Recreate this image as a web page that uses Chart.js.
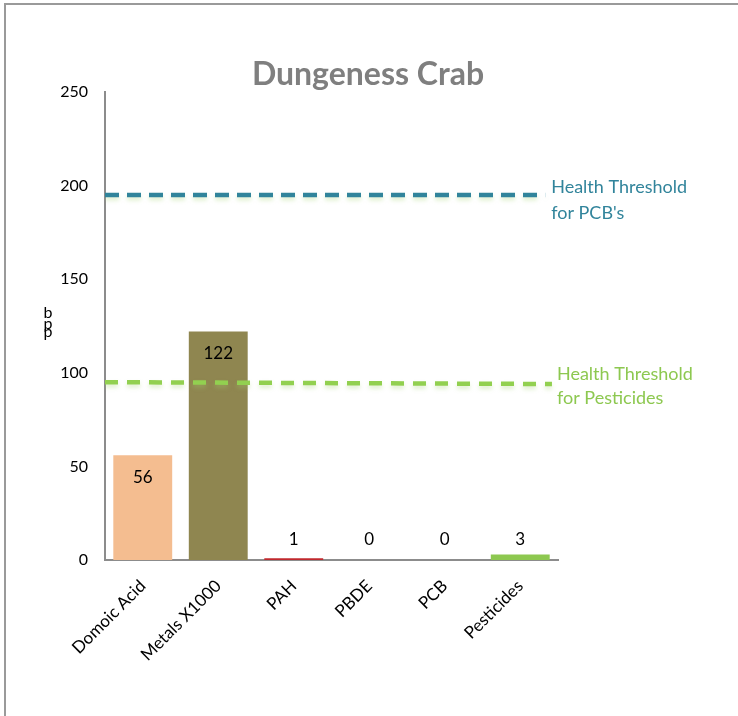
<!DOCTYPE html>
<html>
<head>
<meta charset="utf-8">
<script src="https://cdn.jsdelivr.net/npm/chart.js@4"></script>
<style>
  body { margin: 0; background: #fff; }
  #wrap { position: relative; width: 738px; height: 716px; overflow: hidden; }
  #frame { position: absolute; left: 4px; top: 3px; width: 900px; height: 900px;
           border-top: 2px solid #9a9a9a; border-left: 2px solid #9a9a9a; }
  canvas { position: absolute; left: 0; top: 0; }
</style>
</head>
<body>
<div id="wrap">
  <div id="frame"></div>
  <canvas id="myChart" width="738" height="716"></canvas>
</div>
<script>
// data
const categories = ["Domoic Acid", "Metals X1000", "PAH", "PBDE", "PCB", "Pesticides"];
const values = [56, 122, 1, 0, 0, 3];
const barColors = ["#F4BD90", "#8F8650", "#C0282D", "#8064A2", "#4BACC6", "#8DC850"];
const yTicks = [0, 50, 100, 150, 200, 250];
const pcbThreshold = 195;
const pesticideThreshold = 95;

const FONT = "Lato, 'Open Sans', sans-serif";

// title, value labels, line labels, stacked axis title
const extras = {
    id: "extras",
    afterDatasetsDraw(chart) {
        const ctx = chart.ctx;
        const yScale = chart.scales.y;
        const meta = chart.getDatasetMeta(0);
        ctx.save();
        ctx.textBaseline = "middle";

        ctx.font = "bold 32px " + FONT;
        ctx.fillStyle = "#7F7F7F";
        ctx.textAlign = "center";
        ctx.fillText("Dungeness Crab", 368, 75);

        ctx.font = "17px " + FONT;
        ctx.fillStyle = "#000";
        meta.data.forEach((bar, i) => {
            let y;
            if (values[i] >= 20) {
                y = bar.y + 22;
            } else {
                y = yScale.getPixelForValue(0) - 20;
            }
            ctx.fillText(String(values[i]), bar.x, y);
        });

        // threshold labels at the end of each line
        ctx.font = "18px " + FONT;
        ctx.textAlign = "left";
        const pcbMeta = chart.getDatasetMeta(1);
        const pEnd = pcbMeta.data[pcbMeta.data.length - 1];
        ctx.fillStyle = "#31849B";
        ctx.fillText("Health Threshold", pEnd.x + 6, pEnd.y - 8);
        ctx.fillText("for PCB's", pEnd.x + 6, pEnd.y + 18);

        const pestMeta = chart.getDatasetMeta(2);
        const gEnd = pestMeta.data[pestMeta.data.length - 1];
        ctx.fillStyle = "#8DC850";
        ctx.fillText("Health Threshold", gEnd.x + 5, gEnd.y - 10);
        ctx.fillText("for Pesticides", gEnd.x + 5, gEnd.y + 14);

        // y axis title, stacked letters
        ctx.font = "16px " + FONT;
        ctx.fillStyle = "#000";
        ctx.textAlign = "center";
        const mid = (chart.chartArea.top + chart.chartArea.bottom) / 2;
        ctx.fillText("b", 48, mid - 13);
        ctx.fillText("p", 48, mid - 2);
        ctx.fillText("p", 48, mid + 6);
        ctx.restore();
    }
};

// soft glow under the dashed lines
const glow = {
    id: "glow",
    beforeDatasetDraw(chart, args) {
        if (args.index > 0) {
            chart.ctx.save();
            chart.ctx.shadowColor = "rgba(160, 210, 110, 0.35)";
            chart.ctx.shadowBlur = 4;
            chart.ctx.shadowOffsetY = 3;
        }
    },
    afterDatasetDraw(chart, args) {
        if (args.index > 0) chart.ctx.restore();
    }
};

const ctx = document.getElementById("myChart");
new Chart(ctx, {
    type: "bar",
    data: {
        labels: categories,
        datasets: [{
            data: values,
            backgroundColor: barColors,
            categoryPercentage: 1,
            barPercentage: 0.78,
            grouped: false,
            order: 2
        }, {
            type: "line",
            xAxisID: "x2",
            data: [{ x: -0.5, y: pcbThreshold }, { x: 5.33, y: pcbThreshold }],
            borderColor: "#31849B",
            borderWidth: 4.5,
            borderDash: [14, 8],
            pointRadius: 0,
            order: 1
        }, {
            type: "line",
            xAxisID: "x2",
            data: [{ x: -0.5, y: pesticideThreshold }, { x: 5.42, y: pesticideThreshold - 1 }],
            borderColor: "#92D050",
            borderWidth: 4.5,
            borderDash: [13, 9],
            pointRadius: 0,
            order: 1
        }]
    },
    options: {
        responsive: false,
        animation: false,
        layout: { padding: { left: 0, right: 180, top: 92, bottom: 0 } },
        plugins: {
            legend: { display: false },
            tooltip: { enabled: false },
            title: { display: false }
        },
        scales: {
            x: {
                grid: { display: false, drawTicks: false },
                border: { color: "#8c8c8c", width: 2 },
                ticks: {
                    color: "#000",
                    font: { family: FONT, size: 17 },
                    minRotation: 45,
                    maxRotation: 45,
                    padding: 16
                },
                afterFit(scale) { scale.height = 156; }
            },
            x2: {
                type: "linear",
                display: false,
                offset: false,
                min: -0.5,
                max: 5.5
            },
            y: {
                min: 0,
                max: 250,
                grid: { display: false, drawTicks: false },
                border: { color: "#8c8c8c", width: 2 },
                afterBuildTicks(scale) { scale.ticks = yTicks.map(v => ({ value: v })); },
                ticks: {
                    color: "#000",
                    font: { family: FONT, size: 16 },
                    padding: 17
                },
                afterFit(scale) { scale.width = 105; }
            }
        }
    },
    plugins: [extras, glow]
});
</script>
</body>
</html>
